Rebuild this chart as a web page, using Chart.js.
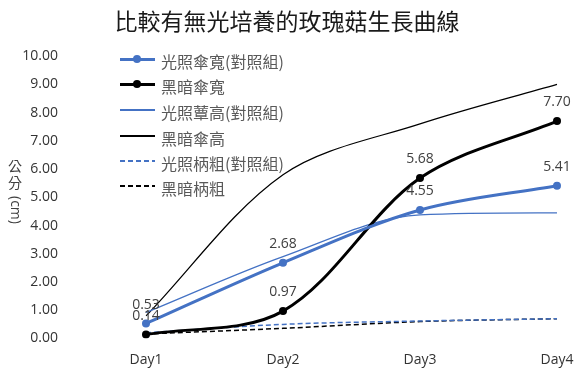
<!DOCTYPE html>
<html>
<head>
<meta charset="utf-8">
<script src="https://cdn.jsdelivr.net/npm/chart.js@4.4.1/dist/chart.umd.min.js"></script>
<style>
  html, body { margin: 0; padding: 0; background: #fff; }
  #wrap { position: relative; width: 574px; height: 371px; }
  #growthChart { display: block; }
  #legend { position: absolute; left: 0; top: 0; }
  .row { position: absolute; left: 120px; height: 20px; width: 200px; }
  .sample { position: absolute; left: 0; top: 10px; width: 35px; }
  .dot { position: absolute; left: 13px; top: 6px; width: 8px; height: 8px; border-radius: 50%; }
  .txt { position: absolute; left: 41px; top: 0; line-height: 20px; font: 16px "Noto Sans CJK TC", sans-serif; color: #595959; white-space: nowrap; }
</style>
</head>
<body>
<div id="wrap">
  <canvas id="growthChart" width="574" height="371"></canvas>
  <div id="legend"></div>
</div>
<script>
// 天數
const days = ['Day1', 'Day2', 'Day3', 'Day4'];

// 各組量測值 (cm)
const lightCapWidth = [0.53, 2.68, 4.55, 5.41];
const darkCapWidth = [0.14, 0.97, 5.68, 7.70];
const lightHeight = [0.92, 2.9, 4.38, 4.45];
const darkHeight = [0.8, 5.8, 7.6, 9.0];
const lightStem = [0.2, 0.5, 0.62, 0.7];
const darkStem = [0.16, 0.36, 0.6, 0.7];

const seriesNames = ['光照傘寬(對照組)', '黑暗傘寬', '光照蕈高(對照組)', '黑暗傘高', '光照柄粗(對照組)', '黑暗柄粗'];

const BLUE = '#4472C4';
const BLACK = '#000000';

const AREA_LEFT = 146;
const AREA_RIGHT = 557;
const AREA_BOTTOM = 338.5;

// 在傘寬的點上方標示數值
const valueLabels = {
    id: 'valueLabels',
    afterDatasetsDraw(chart) {
        const ctx = chart.ctx;
        ctx.save();
        ctx.font = '14px "Open Sans", sans-serif';
        ctx.fillStyle = '#404040';
        ctx.textAlign = 'center';
        ctx.textBaseline = 'middle';
        chart.data.datasets.forEach((ds, i) => {
            if (!ds.showValues) return;
            chart.getDatasetMeta(i).data.forEach((pt, j) => {
                ctx.fillText(ds.data[j].toFixed(2), pt.x, pt.y - 19);
            });
        });
        ctx.restore();
    }
};

// 直式的 Y 軸標題
const yTitle = {
    id: 'yTitle',
    afterDraw(chart) {
        const ctx = chart.ctx;
        ctx.save();
        ctx.fillStyle = '#404040';
        ctx.textAlign = 'center';
        ctx.textBaseline = 'middle';
        ctx.font = '14px "Noto Sans CJK TC", sans-serif';
        ctx.fillText('公', 15, 166);
        ctx.fillText('分', 15, 183);
        ctx.translate(15, 210);
        ctx.rotate(Math.PI / 2);
        ctx.font = '14px "Open Sans", sans-serif';
        ctx.fillText('(cm)', 0, 0);
        ctx.restore();
    }
};

const ctx = document.getElementById('growthChart').getContext('2d');

const chart = new Chart(ctx, {
    type: 'line',
    data: {
        labels: days,
        datasets: [
            {
                label: seriesNames[0], data: lightCapWidth, borderColor: BLUE, backgroundColor: BLUE,
                borderWidth: 3, pointRadius: 4, pointBorderWidth: 0, showValues: true
            },
            {
                label: seriesNames[1], data: darkCapWidth, borderColor: BLACK, backgroundColor: BLACK,
                borderWidth: 3, pointRadius: 4, pointBorderWidth: 0, showValues: true
            },
            {
                label: seriesNames[2], data: lightHeight, borderColor: BLUE,
                borderWidth: 1.25, pointRadius: 0, cubicInterpolationMode: 'monotone'
            },
            {
                label: seriesNames[3], data: darkHeight, borderColor: BLACK,
                borderWidth: 1.25, pointRadius: 0
            },
            {
                label: seriesNames[4], data: lightStem, borderColor: BLUE,
                borderWidth: 1.5, borderDash: [5, 3], pointRadius: 0
            },
            {
                label: seriesNames[5], data: darkStem, borderColor: BLACK,
                borderWidth: 1.5, borderDash: [5, 3], pointRadius: 0
            }
        ]
    },
    options: {
        responsive: false,
        animation: false,
        devicePixelRatio: 1,
        layout: { padding: 0 },
        elements: { line: { tension: 0.33, fill: false } },
        plugins: {
            legend: { display: false },
            tooltip: { enabled: false },
            title: {
                display: true,
                text: '比較有無光培養的玫瑰菇生長曲線',
                color: '#1a1a1a',
                font: { family: '"Noto Sans CJK TC", sans-serif', size: 23, weight: 'normal' },
                padding: { top: 7, bottom: 21.5 }
            }
        },
        scales: {
            x: {
                offset: false,
                grid: { display: false, drawTicks: false },
                border: { display: false },
                ticks: { color: '#333', padding: 13, font: { family: '"Open Sans", sans-serif', size: 14 } },
                afterFit(s) {
                    s.height = 371 - AREA_BOTTOM;
                    s.paddingLeft = 0;
                    s.paddingRight = 574 - AREA_RIGHT;
                }
            },
            y: {
                min: 0,
                max: 10,
                grid: { display: false, drawTicks: false },
                border: { display: false },
                ticks: {
                    stepSize: 1,
                    padding: 88,
                    color: '#333',
                    font: { family: '"Open Sans", sans-serif', size: 14 },
                    callback: v => v.toFixed(2)
                },
                afterFit(s) {
                    s.width = AREA_LEFT;
                    s.paddingTop = 0;
                    s.paddingBottom = 0;
                }
            }
        }
    },
    plugins: [valueLabels, yTitle]
});

// 圖例
const rowTops = [59, 84, 110, 136, 161, 186];
const legendStyles = [
    { color: BLUE, width: 3, dot: true },
    { color: BLACK, width: 3, dot: true },
    { color: BLUE, width: 1.5 },
    { color: BLACK, width: 1.5 },
    { color: BLUE, width: 1.5, dash: true },
    { color: BLACK, width: 1.5, dash: true }
];
const legend = document.getElementById('legend');
seriesNames.forEach((name, i) => {
    const st = legendStyles[i];
    const row = document.createElement('div');
    row.className = 'row';
    row.style.top = (rowTops[i] - 10) + 'px';
    const line = document.createElement('div');
    line.className = 'sample';
    line.style.height = st.width + 'px';
    line.style.marginTop = (-st.width / 2) + 'px';
    line.style.background = st.dash
        ? 'repeating-linear-gradient(90deg, ' + st.color + ' 0 5px, transparent 5px 8px)'
        : st.color;
    row.appendChild(line);
    if (st.dot) {
        const dot = document.createElement('div');
        dot.className = 'dot';
        dot.style.background = st.color;
        row.appendChild(dot);
    }
    const txt = document.createElement('div');
    txt.className = 'txt';
    txt.textContent = name;
    row.appendChild(txt);
    legend.appendChild(row);
});
</script>
</body>
</html>
